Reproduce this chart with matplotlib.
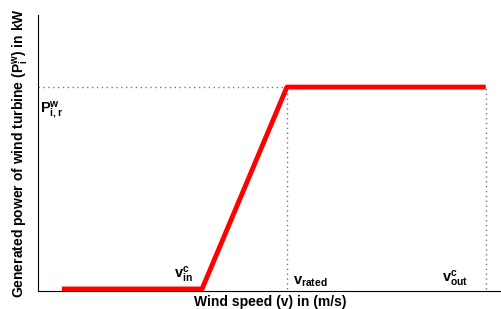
import numpy as np
import matplotlib
matplotlib.use('Agg')
import matplotlib.pyplot as plt

plt.rcParams['font.family'] = ['Liberation Sans', 'DejaVu Sans']
plt.rcParams['mathtext.fontset'] = 'custom'
plt.rcParams['mathtext.rm'] = 'Liberation Sans:bold'
plt.rcParams['mathtext.bf'] = 'Liberation Sans:bold'
plt.rcParams['mathtext.it'] = 'Liberation Sans:bold'

# power curve (normalised)
wind_speed = [1.03, 7.07, 10.73, 19.3]
power = [0.0, 0.0, 1.0, 1.0]
v_rated = 10.73
v_out = 19.3
p_rated = 1.0

fig = plt.figure(figsize=(5.02, 3.09), dpi=100)
ax = fig.add_axes([38/502, 18/309, 464/502, 276/309])

ax.plot(wind_speed, power, color='red', lw=3.5, solid_capstyle='butt', zorder=3)
dots = (0, (1, 2.5))
ax.plot([0, v_rated], [p_rated, p_rated], ls=dots, color='#777777', lw=1)
ax.plot([v_rated, v_rated], [0, p_rated], ls=dots, color='#777777', lw=1)
ax.plot([v_out, v_out], [0, p_rated], ls=dots, color='#777777', lw=1)

ax.set_xlim(0, 20)
ax.set_ylim(-0.01, 1.357)
ax.set_xticks([])
ax.set_yticks([])
ax.spines['top'].set_visible(False)
ax.spines['right'].set_visible(False)

ax.text(0.1, 0.94, r'$\mathrm{P^w_{i,r}}$', fontsize=10.5, va='top', ha='left')
ax.text(5.85, 0.02, r'$\mathrm{v^c_{in}}$', fontsize=10.5, va='bottom', ha='left')
ax.text(11.0, 0.0, r'$\mathrm{v_{rated}}$', fontsize=10.5, va='bottom', ha='left')
ax.text(17.4, 0.0, r'$\mathrm{v^c_{out}}$', fontsize=10.5, va='bottom', ha='left')

ax.set_xlabel('Wind speed (v) in (m/s)', fontsize=10, fontweight='bold', labelpad=3)
ax.set_ylabel(r'Generated power of wind turbine ($\mathrm{P^w_i}$) in kW', fontsize=10,
              fontweight='bold', labelpad=5)

plt.savefig('out.png', dpi=100)
